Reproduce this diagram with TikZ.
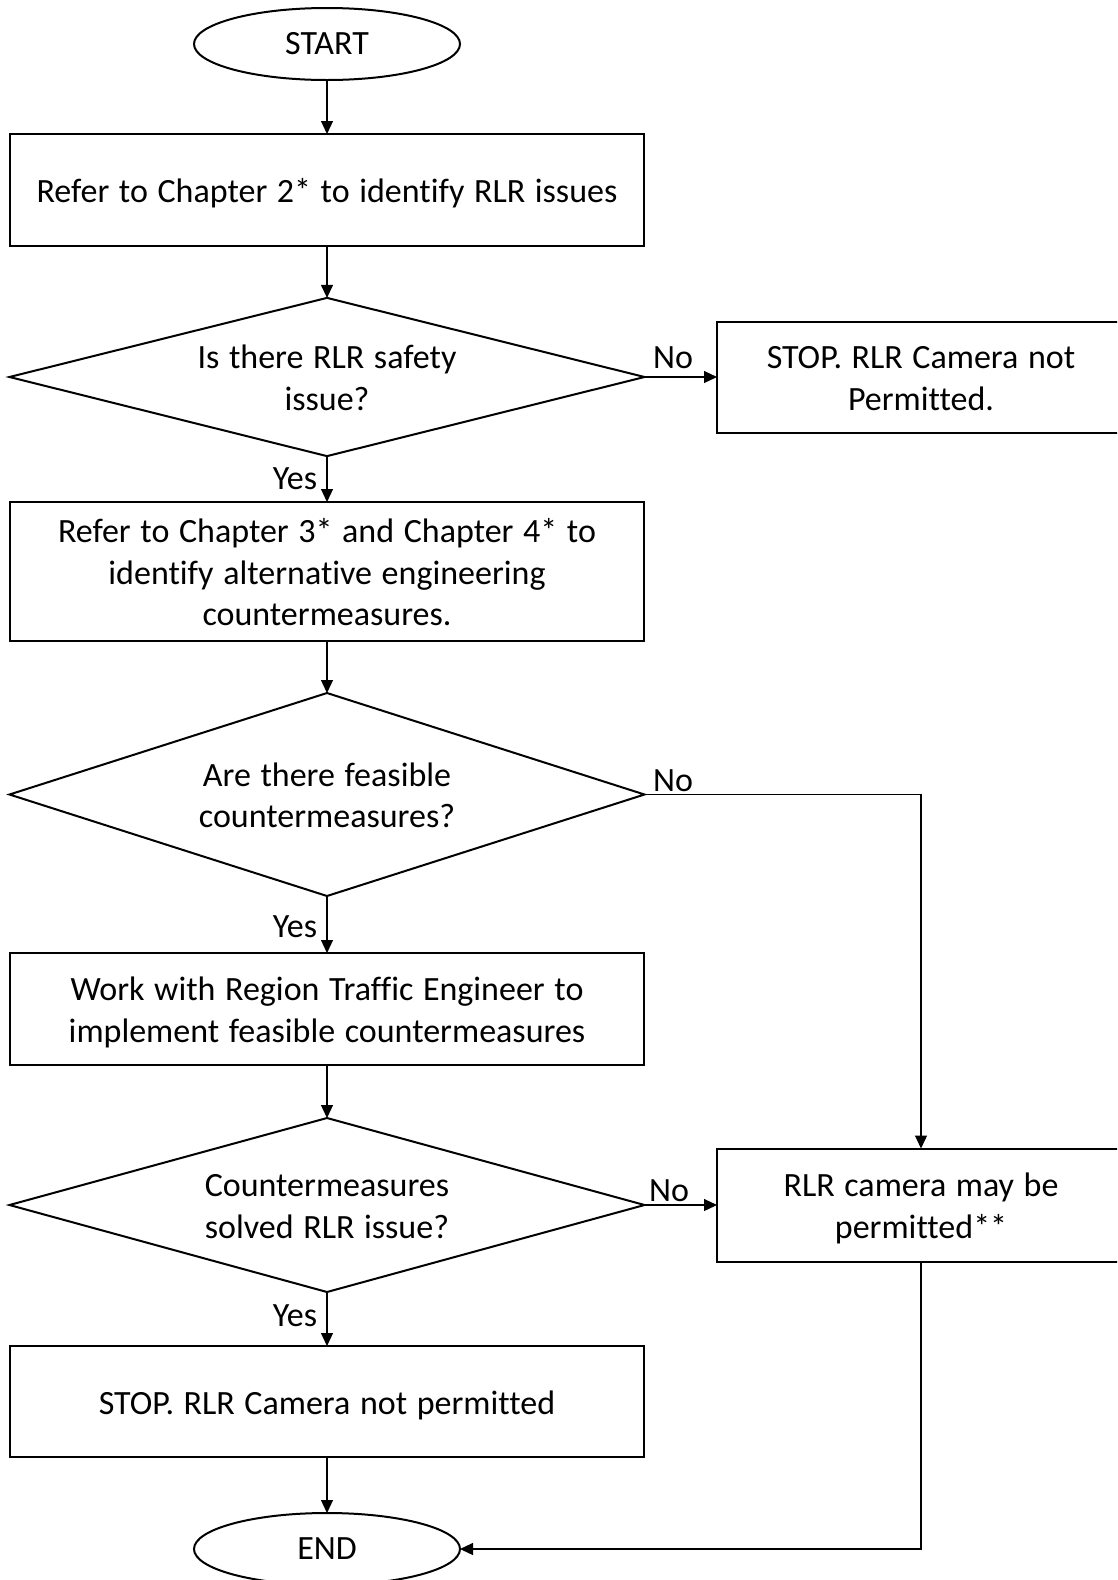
\documentclass[tikz,border=0pt]{standalone}
\usepackage{fontspec}
\setmainfont{Carlito}[Ligatures={NoCommon}, WordSpace={1.25}]
\usetikzlibrary{shapes.geometric,arrows.meta}
\newcommand\stt{\rule[-9pt]{0pt}{43pt}}
\newcommand\nfont{\fontsize{34}{41.3}\selectfont\lineskiplimit=-100pt\relax}
\begin{document}
\frenchspacing
\begin{tikzpicture}[x=1pt,y=-1pt,
 every node/.style={font=\nfont, inner sep=0pt, outer sep=0pt},
 box/.style={draw, line width=2pt, minimum width=634pt, minimum height=112pt, align=center},
 rbox/.style={draw, line width=2pt, minimum width=408pt, minimum height=111pt, align=center},
 dec/.style={draw, diamond, aspect=3.5, line width=2pt, minimum width=635pt, align=center},
 term/.style={draw, ellipse, line width=2pt, minimum width=266pt, minimum height=72pt},
 conn/.style={line width=1.2pt, -{Triangle[length=13pt,width=12pt]}},
 lbl/.style={anchor=base}]
\useasboundingbox (0,0) rectangle (1117,1580);
\clip (0,0) rectangle (1117,1580);
\fill[white] (0,0) rectangle (1117,1580);
\node[term] (start) at (327,44) {START};
\node[box] (b1) at (327,190) {\stt Refer to Chapter 2* to identify RLR issues};
\node[dec, minimum height=156pt] (d1) at (327,377) {\stt Is there RLR safety\\\stt issue?};
\node[rbox] (r1) at (921,377) {\stt STOP. RLR Camera not\\\stt Permitted.};
\node[box, minimum height=139pt] (b2) at (327,571.5) {\stt Refer to Chapter 3* and Chapter 4* to\\\stt identify alternative engineering\\\stt countermeasures.};
\node[dec, minimum height=203pt] (d2) at (327,794.5) {\stt Are there feasible\\\stt countermeasures?};
\node[box] (b3) at (327,1009) {\stt Work with Region Traffic Engineer to\\\stt implement feasible countermeasures};
\node[dec, minimum height=174pt] (d3) at (327,1205) {\stt Countermeasures\\\stt solved RLR issue?};
\node[rbox, minimum height=113pt] (r2) at (921,1205) {\stt RLR camera may be\\\stt permitted**};
\node[box, minimum height=111pt] (b4) at (327,1401.5) {\stt STOP. RLR Camera not permitted};
\node[term] (end) at (327,1549) {END};
\draw[conn] (start) -- (b1);
\draw[conn] (b1) -- (d1);
\draw[conn] (d1.east) -- (r1.west);
\draw[conn] (d1) -- (b2);
\draw[conn] (b2) -- (d2);
\draw[conn] (d2.east) -| (r2.north);
\draw[conn] (d2) -- (b3);
\draw[conn] (b3) -- (d3);
\draw[conn] (d3.east) -- (r2.west);
\draw[conn] (d3) -- (b4);
\draw[conn] (b4) -- (end);
\draw[conn] (r2.south) |- (end.east);
\node[lbl] (n1) at (673,368) {No};
\node[lbl] (n2) at (673,791) {No};
\node[lbl] (n3) at (669,1201.5) {No};
\node[lbl] (y1) at (295,489.5) {Yes};
\node[lbl] (y2) at (295,937) {Yes};
\node[lbl] (y3) at (295,1326) {Yes};
\end{tikzpicture}
\end{document}
